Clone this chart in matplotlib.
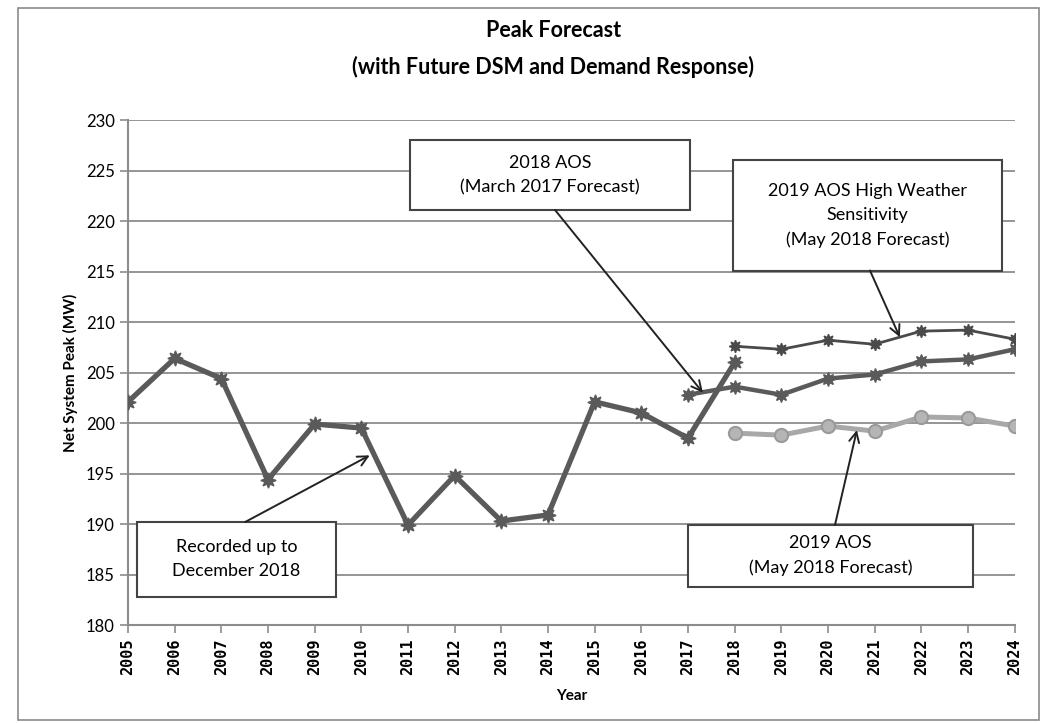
import matplotlib
matplotlib.use('Agg')
import matplotlib.pyplot as plt
from matplotlib.patches import Rectangle

# dados
years = list(range(2005, 2025))
hist_years = list(range(2005, 2019))
hist_peak = [202.1, 206.4, 204.4, 194.4, 199.9, 199.5, 189.9, 194.8, 190.3, 190.9,
             202.1, 201.0, 198.5, 206.0]
aos2018_years = list(range(2017, 2025))
aos2018_peak = [202.8, 203.6, 202.8, 204.4, 204.8, 206.1, 206.3, 207.3]
high_years = list(range(2018, 2025))
high_peak = [207.6, 207.3, 208.2, 207.8, 209.1, 209.2, 208.3]
aos2019_years = list(range(2018, 2025))
aos2019_peak = [199.0, 198.8, 199.7, 199.2, 200.6, 200.5, 199.7]

title = 'Peak Forecast\n(with Future DSM and Demand Response)'
ylabel = 'Net System Peak (MW)'
xlabel = 'Year'

# caixas de anotacao: texto, (x0, x1, y0, y1), seta de -> para
notes = [
    ('Recorded up to\nDecember 2018', (2005.19, 2009.46, 182.8, 190.2),
     (2007.51, 190.2), (2010.18, 196.8)),
    ('2018 AOS\n(March 2017 Forecast)', (2011.04, 2017.04, 221.1, 228.0),
     (2014.15, 221.1), (2017.32, 203.0)),
    ('2019 AOS High Weather\nSensitivity\n(May 2018 Forecast)', (2017.96, 2023.74, 215.1, 226.0),
     (2020.9, 215.1), (2021.54, 208.5)),
    ('2019 AOS\n(May 2018 Forecast)', (2017.0, 2023.1, 183.8, 189.9),
     (2020.15, 189.9), (2020.62, 199.3)),
]

font = 'Lato'
dark = '#5a5a5a'
light = '#a8a8a8'

fig = plt.figure(figsize=(10.58, 7.23), dpi=100)
ax = fig.add_axes([0.121, 0.1355, 0.838, 0.6985])

# borda externa
fig.patches.append(Rectangle((0.017, 0.004), 0.965, 0.985, transform=fig.transFigure,
                             fill=False, edgecolor='#8a8a8a', lw=1.2))

ax.plot(hist_years, hist_peak, color=dark, lw=3.8, marker=(8, 1, 0), ms=11,
        mfc=dark, mec=dark, zorder=4)
ax.plot(aos2018_years, aos2018_peak, color=dark, lw=3.2, marker=(8, 1, 0), ms=10,
        mfc=dark, mec=dark, zorder=4)
ax.plot(high_years, high_peak, color='#4a4a4a', lw=2.0, marker=(8, 1, 0), ms=9,
        mfc='#4a4a4a', mec='#4a4a4a', zorder=4)
ax.plot(aos2019_years, aos2019_peak, color=light, lw=3.6, marker='o', ms=9.5,
        mfc='#b5b5b5', mec='#9a9a9a', mew=1.5, zorder=4)

ax.set_xlim(2005, 2024)
ax.set_ylim(180, 230)
ax.set_yticks(range(180, 231, 5))
ax.set_xticks(years)
ax.set_xticklabels([str(y) for y in years], rotation=90, family='DejaVu Sans Mono',
                   fontweight='bold', fontsize=11)
for lab in ax.get_yticklabels():
    lab.set_family(font)
    lab.set_fontsize(12)
ax.grid(axis='y', color='#8c8c8c', lw=1.3)
ax.set_axisbelow(True)
for s in ['top', 'right']:
    ax.spines[s].set_visible(False)
for s in ['left', 'bottom']:
    ax.spines[s].set_color('#8c8c8c')
    ax.spines[s].set_linewidth(1.5)
ax.tick_params(axis='both', direction='out', color='#8c8c8c', length=6, width=1.2)
ax.tick_params(axis='x', pad=4)

ax.set_ylabel(ylabel, family=font, fontweight='bold', fontsize=11, labelpad=6)
ax.set_xlabel(xlabel, family=font, fontweight='bold', fontsize=11, labelpad=10)
fig.text(0.523, 0.932, title, ha='center', va='center', family=font,
         fontweight='bold', fontsize=15.5, linespacing=1.8)

for txt, (x0, x1, y0, y1), tail, head in notes:
    ax.add_patch(Rectangle((x0, y0), x1 - x0, y1 - y0, fc='white', ec='#444444',
                           lw=1.5, zorder=6, clip_on=False))
    ax.text((x0 + x1) / 2, (y0 + y1) / 2, txt, ha='center', va='center', family=font,
            fontsize=13, linespacing=1.6, zorder=7)
    ax.annotate('', xy=head, xytext=tail, zorder=7,
                arrowprops=dict(arrowstyle='->', color='#222222', lw=1.4, shrinkA=0,
                                shrinkB=0, mutation_scale=18))

fig.savefig('out.png', dpi=100)
